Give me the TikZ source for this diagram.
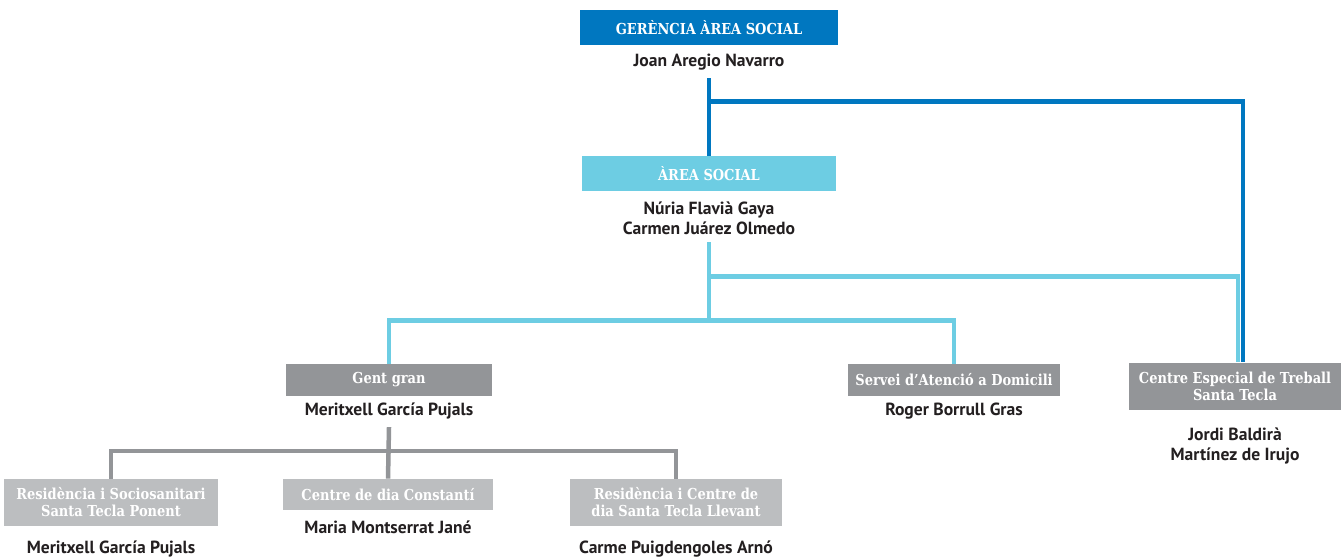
\documentclass[tikz,border=0pt]{standalone}
\usepackage{fontspec}
\usepackage{xcolor}
\usepackage{tikz}
\usetikzlibrary{positioning,calc}

\newfontfamily\slabfont[FakeStretch=0.86]{DejaVu Serif}
\newfontfamily\namefont{PT Sans}

\definecolor{deep}{RGB}{0,119,192}
\definecolor{sky}{RGB}{109,205,227}
\definecolor{slate}{RGB}{147,149,152}
\definecolor{pale}{RGB}{188,190,192}
\definecolor{ink}{RGB}{35,31,32}

\begin{document}
\begin{tikzpicture}[
    x=0.02cm, y=-0.02cm,
    every node/.style={inner sep=0pt},
    head/.style={fill=#1, text=white, align=center, font=\slabfont\bfseries\fontsize{8.6}{9.7}\selectfont},
    person/.style={text=ink, align=center, outer sep=0.16cm, font=\namefont\bfseries\fontsize{10}{11.3}\selectfont},
    link/.style={draw=#1, line width=0.09cm},
  ]
  \useasboundingbox[fill=white] (0,0) rectangle (1344,560);

  % Top management
  \node[head=deep, minimum width=5.16cm, minimum height=0.7cm] (gerencia) at (709,27.5) {GERÈNCIA ÀREA SOCIAL};
  \node[person] (joan) at (709,62) {Joan Aregio Navarro};

  \node[head=sky, minimum width=5.1cm, minimum height=0.7cm] (area) at (709,173.5) {ÀREA SOCIAL};
  \node[person] (flavia) at (709,218) {Núria Flavià Gaya\\Carmen Juárez Olmedo};

  % Second level
  \node[head=slate, minimum width=4.14cm, minimum height=0.64cm] (gent) at (389,380) {Gent gran};
  \node[person] (merit) at (389,411) {Meritxell García Pujals};

  \node[head=slate, minimum width=4.24cm, minimum height=0.64cm] (servei) at (954,380) {Servei d’Atenció a Domicili};
  \node[person] (roger) at (954,411) {Roger Borrull Gras};

  \node[head=slate, minimum width=4.24cm, minimum height=0.96cm] (cete) at (1235,386.5) {Centre Especial de Treball\\Santa Tecla};
  \node[person] (jordi) at (1235,446) {Jordi Baldirà\\Martínez de Irujo};

  % Third level
  \node[head=pale, minimum width=4.28cm, minimum height=0.94cm] (res1) at (111,502.5) {Residència i Sociosanitari\\Santa Tecla Ponent};
  \node[person] (merit2) at (111,549) {Meritxell García Pujals};

  \node[head=pale, minimum width=4.2cm, minimum height=0.62cm] (const) at (388,494.5) {Centre de dia Constantí};
  \node[person] (maria) at (388,527) {Maria Montserrat Jané};

  \node[head=pale, minimum width=4.24cm, minimum height=0.94cm] (res2) at (676,502.5) {Residència i Centre de\\dia Santa Tecla Llevant};
  \node[person] (carme) at (676,549) {Carme Puigdengoles Arnó};

  % Junctions
  \coordinate (bj) at (709,101.5);
  \coordinate (lk) at (709,276.5);
  \coordinate (lj) at (709,320.5);
  \coordinate (gj) at (389,451);

  % Connectors
  \draw[link=deep] (joan.south) -- (area.north);
  \draw[link=deep] (bj) -| ([xshift=0.16cm]cete.north);
  \draw[link=sky] (flavia.south) -- (lj);
  \draw[link=sky] (lk) -| ([xshift=0.06cm]cete.north);
  \draw[link=sky] (gent.north) |- (lj) -| (servei.north);
  \draw[link=slate] (merit.south) -- (const.north);
  \draw[link=slate] (res1.north) |- (gj) -| (res2.north);

\end{tikzpicture}
\end{document}
